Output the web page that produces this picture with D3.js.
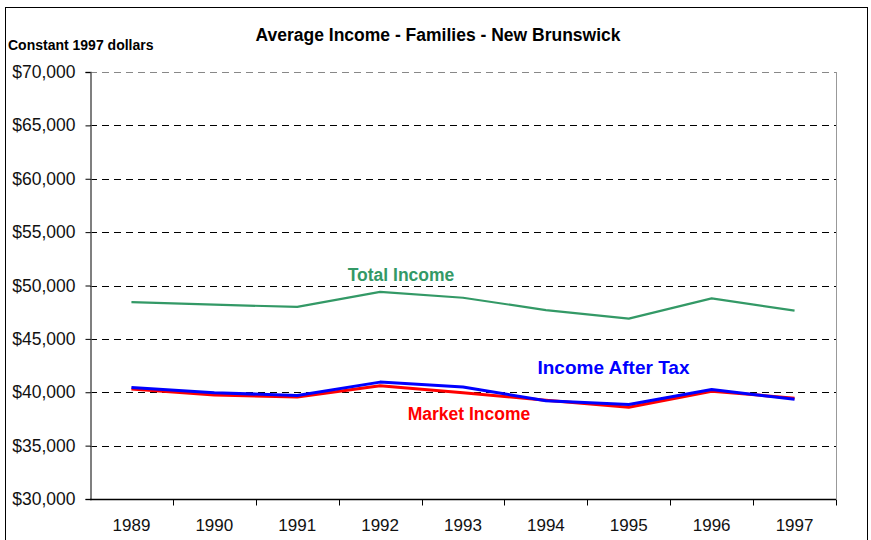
<!DOCTYPE html>
<html>
<head>
<meta charset="utf-8">
<script src="https://cdn.jsdelivr.net/npm/d3@7"></script>
<style>
  body { margin: 0; background: #fff; }
  svg { display: block; font-family: Arial, "Liberation Sans", sans-serif; }
</style>
</head>
<body>
<div id="container"></div>
<script>
// data
const years = ["1989", "1990", "1991", "1992", "1993", "1994", "1995", "1996", "1997"];
const totalIncome = [48450, 48200, 48000, 49400, 48850, 47700, 46900, 48800, 47650];
const afterTax = [40450, 39950, 39700, 40950, 40500, 39200, 38850, 40250, 39350];
const marketIncome = [40300, 39750, 39550, 40600, 39950, 39250, 38600, 40100, 39450];
const yTicks = [30000, 35000, 40000, 45000, 50000, 55000, 60000, 65000, 70000];

const width = 871, height = 540;
const margin = {left: 90, right: 35, top: 72, bottom: 41};

const svg = d3.select("div#container")
    .append("svg")
    .attr("width", width)
    .attr("height", height);

// outer frame
svg.append("rect")
    .attr("x", 5.5).attr("y", 7.5)
    .attr("width", 862).attr("height", 560)
    .attr("fill", "none")
    .attr("stroke", "black");

const x = d3.scaleBand()
    .domain(years)
    .range([margin.left, width - margin.right]);

const y = d3.scaleLinear()
    .domain([30000, 70000])
    .range([height - margin.bottom, margin.top]);

// grid lines
svg.append("g")
    .selectAll("line")
    .data(yTicks.filter(d => d > 30000))
    .enter()
    .append("line")
    .attr("x1", margin.left)
    .attr("x2", width - margin.right)
    .attr("y1", d => Math.round(y(d)) + 0.5)
    .attr("y2", d => Math.round(y(d)) + 0.5)
    .attr("stroke", d => d === 70000 ? "#888" : "black")
    .attr("stroke-dasharray", "7,5");

// right border of plot
svg.append("line")
    .attr("x1", width - margin.right + 0.5)
    .attr("x2", width - margin.right + 0.5)
    .attr("y1", margin.top)
    .attr("y2", height - margin.bottom)
    .attr("stroke", "#999");

// y axis
const yAxis = svg.append("g")
    .attr("transform", `translate(${margin.left + 0.5},0)`)
    .call(d3.axisLeft(y)
        .tickValues(yTicks)
        .tickSize(5)
        .tickPadding(10)
        .tickFormat(d => "$" + d3.format(",")(d)));
yAxis.select(".domain").attr("stroke", "#555").attr("stroke-width", 1.5);
yAxis.selectAll("text").attr("font-size", 17.5).attr("fill", "#111")
    .attr("font-family", "Arial, 'Liberation Sans', sans-serif");

// x axis with ticks on band boundaries
const xAxis = svg.append("g")
    .attr("transform", `translate(0,${height - margin.bottom + 0.5})`);
xAxis.append("line")
    .attr("x1", margin.left)
    .attr("x2", width - margin.right)
    .attr("stroke", "black")
    .attr("stroke-width", 1.5);
xAxis.selectAll("line.tick")
    .data(years.slice(1).concat(["end"]))
    .enter()
    .append("line")
    .attr("class", "tick")
    .attr("x1", (d, i) => Math.round(margin.left + x.bandwidth() * (i + 1)) + 0.5)
    .attr("x2", (d, i) => Math.round(margin.left + x.bandwidth() * (i + 1)) + 0.5)
    .attr("y2", 6)
    .attr("stroke", "black");
xAxis.selectAll("text")
    .data(years)
    .enter()
    .append("text")
    .attr("x", d => x(d) + x.bandwidth() / 2)
    .attr("y", 31)
    .attr("text-anchor", "middle")
    .attr("font-size", 17)
    .attr("fill", "#111")
    .text(d => d);

// lines
const lineGenerator = d3.line()
    .x((d, i) => x(years[i]) + x.bandwidth() / 2)
    .y(d => y(d));

const series = [
    {values: totalIncome, color: "#339966", width: 2.2},
    {values: marketIncome, color: "#ff0000", width: 3},
    {values: afterTax, color: "#0000ff", width: 3}
];

svg.selectAll("path.series")
    .data(series)
    .enter()
    .append("path")
    .attr("class", "series")
    .attr("d", d => lineGenerator(d.values))
    .attr("fill", "none")
    .attr("stroke", d => d.color)
    .attr("stroke-width", d => d.width)
    .attr("stroke-linejoin", "round");

// series labels
const labels = [
    {text: "Total Income", color: "#339966", x: 401, y: 281, size: 17.5},
    {text: "Income After Tax", color: "#0000ff", x: 613.5, y: 374, size: 19},
    {text: "Market Income", color: "#ff0000", x: 469, y: 420, size: 17.5}
];
svg.selectAll("text.label")
    .data(labels)
    .enter()
    .append("text")
    .attr("class", "label")
    .attr("x", d => d.x)
    .attr("y", d => d.y)
    .attr("text-anchor", "middle")
    .attr("font-size", d => d.size)
    .attr("font-weight", "bold")
    .attr("fill", d => d.color)
    .text(d => d.text);

// titles
svg.append("text")
    .attr("x", 438)
    .attr("y", 41)
    .attr("text-anchor", "middle")
    .attr("font-size", 17.5)
    .attr("font-weight", "bold")
    .text("Average Income - Families - New Brunswick");

svg.append("text")
    .attr("x", 8)
    .attr("y", 50)
    .attr("font-size", 14)
    .attr("font-weight", "bold")
    .text("Constant 1997 dollars");
</script>
</body>
</html>
